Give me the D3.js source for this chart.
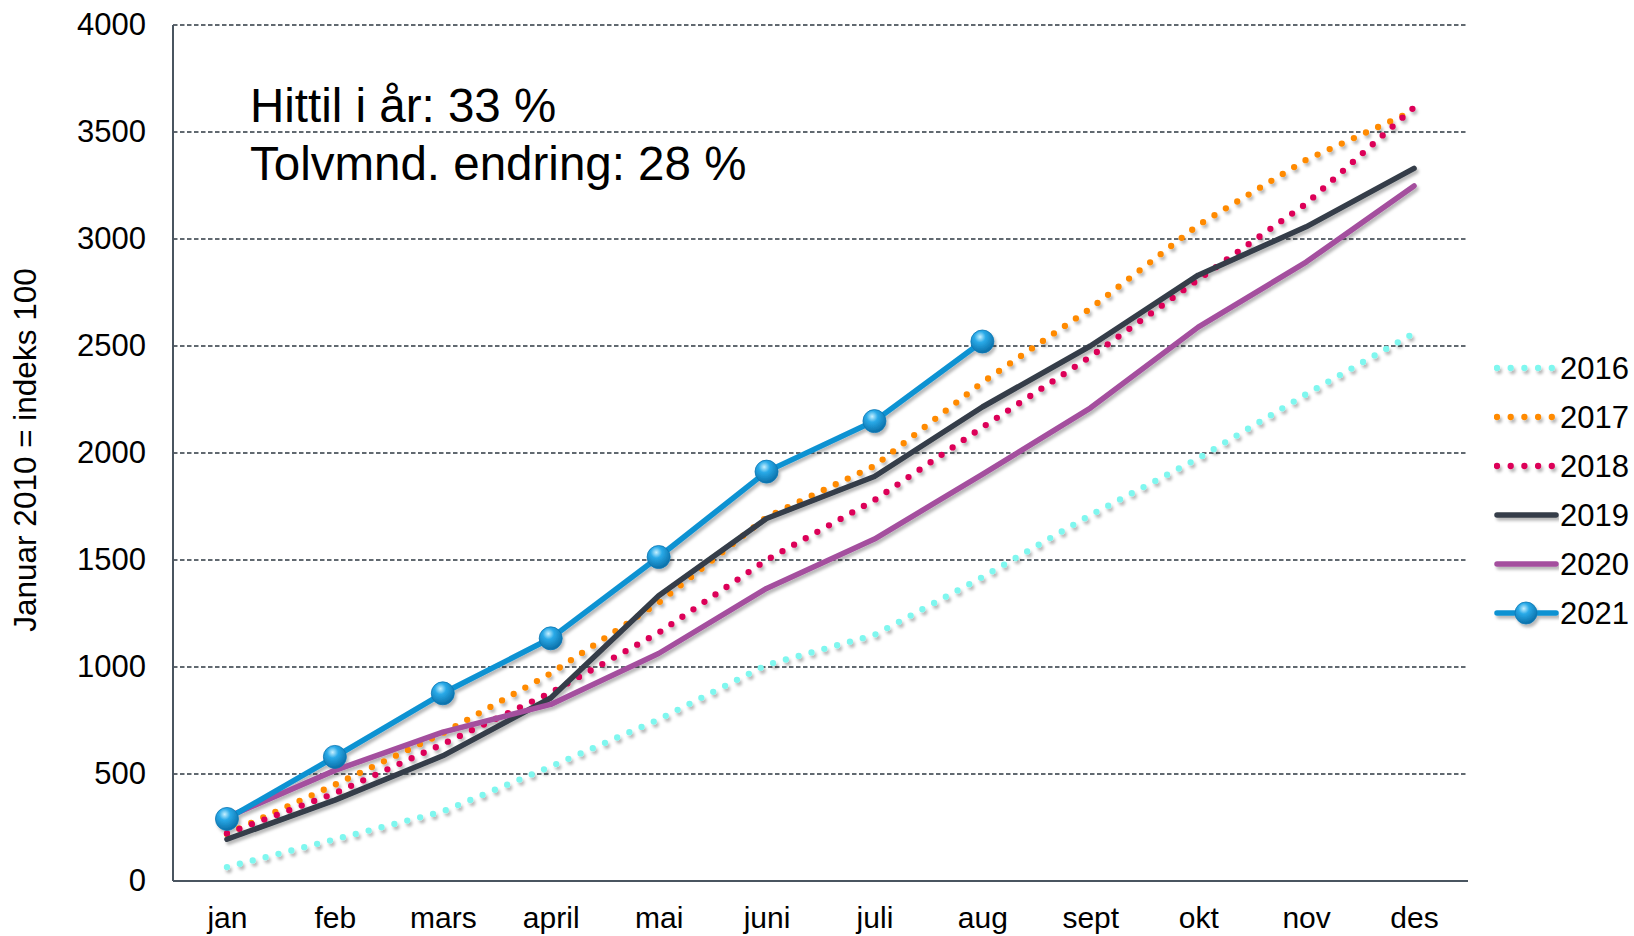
<!DOCTYPE html>
<html>
<head>
    <meta charset="UTF-8">
    <title>Indeks 2016-2021</title>
    <script src="https://d3js.org/d3.v7.min.js"></script>
    <style>
        body { margin: 0; background: #fff; }
        svg text { font-family: "Liberation Sans", Arial, sans-serif; fill: #000; }
    </style>
</head>
<body>
<div id="svg-area"></div>
<script>
// Data (Januar 2010 = indeks 100)
var months = ["jan", "feb", "mars", "april", "mai", "juni", "juli", "aug", "sept", "okt", "nov", "des"];
var yTicks = [0, 500, 1000, 1500, 2000, 2500, 3000, 3500, 4000];
var years = ["2016", "2017", "2018", "2019", "2020", "2021"];

var s2016 = [65, 195, 325, 535, 755, 1010, 1150, 1420, 1710, 1975, 2275, 2560];
var s2017 = [220, 450, 690, 970, 1300, 1700, 1940, 2330, 2675, 3065, 3370, 3600];
var s2018 = [222, 410, 640, 880, 1160, 1500, 1780, 2120, 2450, 2810, 3165, 3615];
var s2019 = [195, 378, 585, 855, 1333, 1694, 1890, 2215, 2500, 2831, 3057, 3330];
var s2020 = [298, 517, 696, 825, 1063, 1367, 1598, 1900, 2210, 2588, 2892, 3248];
var s2021 = [290, 580, 877, 1134, 1514, 1913, 2149, 2521];

var width = 1634;
var height = 936;
var margin = { top: 25, right: 166, bottom: 55, left: 173 };

var svg = d3.select("#svg-area")
    .append("svg")
    .attr("width", width)
    .attr("height", height);

var defs = svg.append("defs");

var shadow = defs.append("filter")
    .attr("id", "shadow")
    .attr("x", "-5%").attr("y", "-5%")
    .attr("width", "110%").attr("height", "110%");
shadow.append("feDropShadow")
    .attr("dx", 2).attr("dy", 3)
    .attr("stdDeviation", 1.8)
    .attr("flood-color", "#000")
    .attr("flood-opacity", 0.28);

var ball = defs.append("radialGradient")
    .attr("id", "ball")
    .attr("cx", "40%").attr("cy", "30%").attr("r", "70%");
ball.append("stop").attr("offset", "0%").attr("stop-color", "#c6f0ff");
ball.append("stop").attr("offset", "35%").attr("stop-color", "#2aaae8");
ball.append("stop").attr("offset", "100%").attr("stop-color", "#0a6fa8");

var x = d3.scalePoint()
    .domain(months)
    .range([margin.left, width - margin.right])
    .padding(0.5);

var y = d3.scaleLinear()
    .domain([0, 4000])
    .range([height - margin.bottom, margin.top]);

// dashed gridlines
svg.append("g")
    .selectAll("line")
    .data(yTicks.filter(function(d) { return d > 0; }))
    .enter()
    .append("line")
    .attr("x1", margin.left)
    .attr("x2", width - margin.right)
    .attr("y1", function(d) { return y(d); })
    .attr("y2", function(d) { return y(d); })
    .attr("stroke", "#2e3842")
    .attr("stroke-width", 1.4)
    .attr("stroke-dasharray", "4.5,2.5");

// axes
var yAxis = d3.axisLeft(y).tickValues(yTicks).tickFormat(d3.format("d")).tickSize(0).tickPadding(27);
var yG = svg.append("g")
    .attr("transform", "translate(" + margin.left + ",0)")
    .call(yAxis);
yG.select(".domain").remove();
yG.selectAll("text").style("font-size", "31px");

var xAxis = d3.axisBottom(x).tickSize(0).tickPadding(26);
var xG = svg.append("g")
    .attr("transform", "translate(0," + (height - margin.bottom) + ")")
    .call(xAxis);
xG.select(".domain").remove();
xG.selectAll("text").style("font-size", "30px");

svg.append("line")
    .attr("x1", margin.left).attr("x2", margin.left)
    .attr("y1", margin.top).attr("y2", height - margin.bottom)
    .attr("stroke", "#4a5560").attr("stroke-width", 2);
svg.append("line")
    .attr("x1", margin.left).attr("x2", width - margin.right)
    .attr("y1", height - margin.bottom).attr("y2", height - margin.bottom)
    .attr("stroke", "#4a5560").attr("stroke-width", 2);

// series
var series = [
    { name: years[0], values: s2016, color: "#7ff7ef", dotted: true },
    { name: years[1], values: s2017, color: "#ff8a00", dotted: true },
    { name: years[2], values: s2018, color: "#dc0058", dotted: true },
    { name: years[3], values: s2019, color: "#343e48", dotted: false },
    { name: years[4], values: s2020, color: "#a4509e", dotted: false },
    { name: years[5], values: s2021, color: "#0b92d2", dotted: false, marker: true }
];

var line = d3.line()
    .x(function(d, i) { return x(months[i]); })
    .y(function(d) { return y(d); });

var plot = svg.append("g").attr("filter", "url(#shadow)");

series.forEach(function(s) {
    plot.append("path")
        .datum(s.values)
        .attr("fill", "none")
        .attr("stroke", s.color)
        .attr("stroke-width", s.dotted ? 6.3 : 5.5)
        .attr("stroke-linecap", "round")
        .attr("stroke-linejoin", "round")
        .attr("stroke-dasharray", s.dotted ? "0,13.3" : null)
        .attr("d", line);

    if (s.marker) {
        plot.selectAll(".m" + s.name)
            .data(s.values)
            .enter()
            .append("circle")
            .attr("cx", function(d, i) { return x(months[i]); })
            .attr("cy", function(d) { return y(d); })
            .attr("r", 11.5)
            .attr("fill", "url(#ball)")
            .attr("stroke", "#0a77b5")
            .attr("stroke-width", 0.8);
    }
});

// legend
var legend = svg.append("g").attr("filter", "url(#shadow)");
series.forEach(function(s, i) {
    var ly = 368 + i * 49;
    legend.append("line")
        .attr("x1", 1497).attr("x2", 1556)
        .attr("y1", ly).attr("y2", ly)
        .attr("stroke", s.color)
        .attr("stroke-width", s.dotted ? 6.3 : 5.5)
        .attr("stroke-linecap", "round")
        .attr("stroke-dasharray", s.dotted ? "0,13.7" : null);
    if (s.marker) {
        legend.append("circle")
            .attr("cx", 1526).attr("cy", ly).attr("r", 11)
            .attr("fill", "url(#ball)")
            .attr("stroke", "#0a77b5").attr("stroke-width", 0.8);
    }
    svg.append("text")
        .attr("x", 1560)
        .attr("y", ly)
        .attr("dy", "0.36em")
        .style("font-size", "31px")
        .text(s.name);
});

// y axis title
svg.append("text")
    .attr("transform", "translate(36,450) rotate(-90)")
    .style("text-anchor", "middle")
    .style("font-size", "31.5px")
    .text("Januar 2010 = indeks 100");

// annotation
svg.append("text")
    .attr("x", 250).attr("y", 122)
    .style("font-size", "47.5px")
    .text("Hittil i år: 33 %");
svg.append("text")
    .attr("x", 250).attr("y", 180)
    .style("font-size", "47.5px")
    .text("Tolvmnd. endring: 28 %");
</script>
</body>
</html>
